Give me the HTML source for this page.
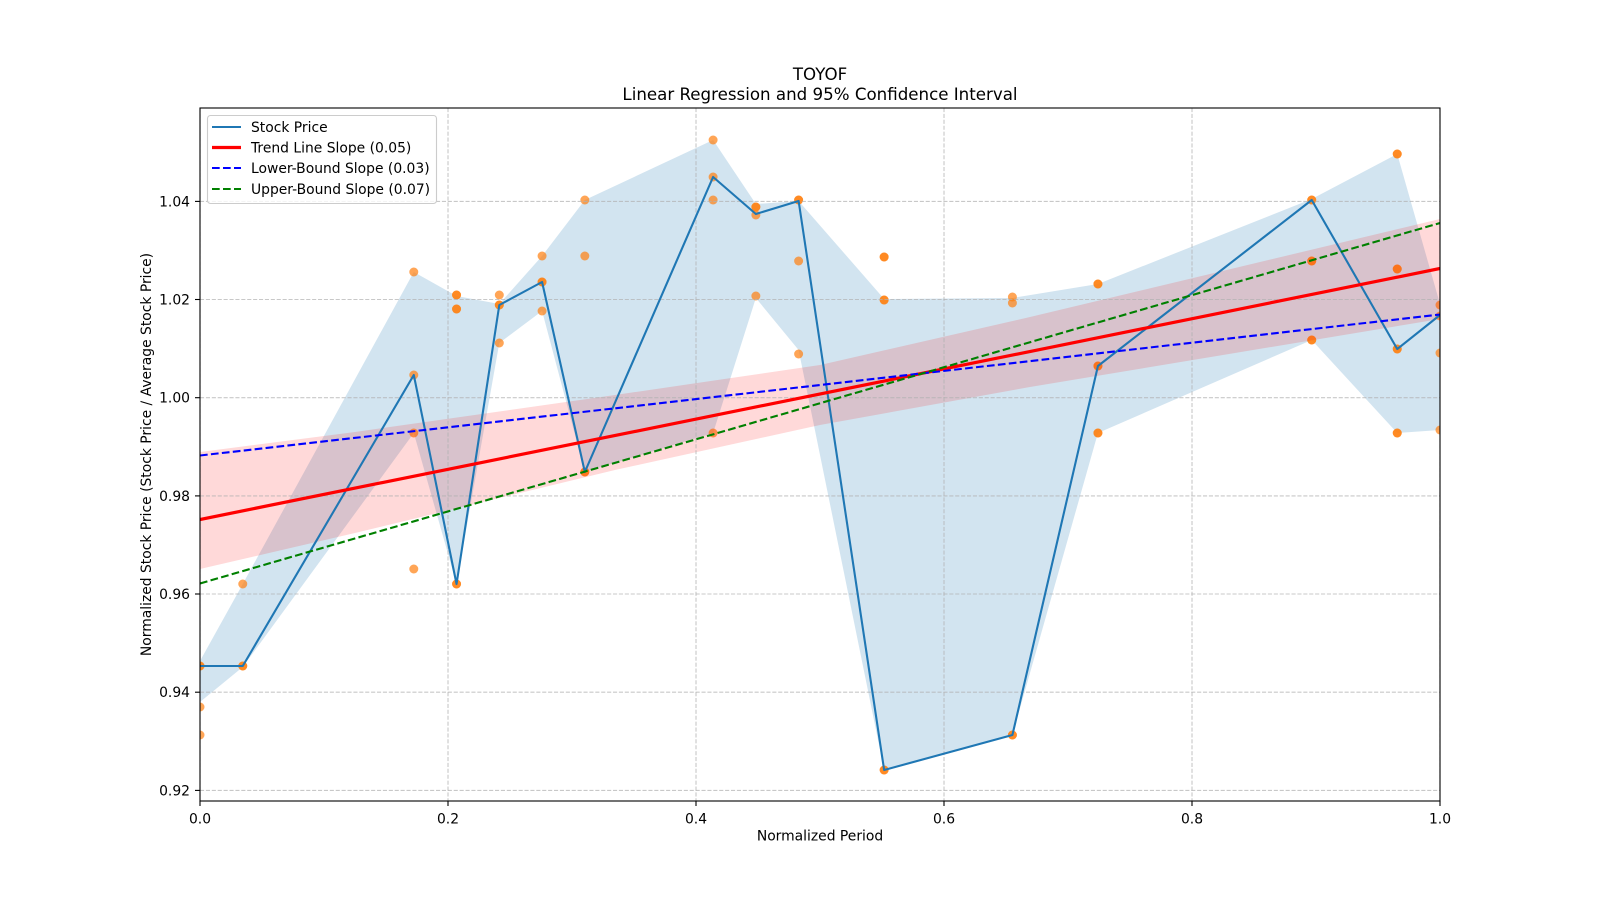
<!DOCTYPE html>
<html><head><meta charset="utf-8"><style>
html,body{margin:0;padding:0;background:#fff;}
svg{display:block;}
text{font-family:"DejaVu Sans","Liberation Sans",sans-serif;fill:#000;}
</style></head><body>
<svg width="1600" height="900" viewBox="0 0 1600 900" xmlns="http://www.w3.org/2000/svg">
<defs><clipPath id="ax"><rect x="200" y="108" width="1240" height="693"/></clipPath></defs>
<rect width="1600" height="900" fill="#fff"/>
<g clip-path="url(#ax)">
<polygon fill="#1f77b4" fill-opacity="0.2" points="200,661 242.76,584 413.79,272 456.55,296 499.31,304 542.07,256 584.83,200 713.10,140 755.86,204 798.62,201 884.14,299 1012.41,298 1097.93,284 1311.72,199 1397.24,154 1440,304 1440,430 1397.24,433 1311.72,340 1097.93,433 1012.41,735 884.14,770 798.62,350 755.86,298 713.10,433 584.83,472 542.07,311 499.31,343 456.55,584 413.79,433 242.76,667 200,702"/>
<g fill="#ff7f0e" fill-opacity="0.7">
<circle cx="200" cy="666" r="4.5"/><circle cx="200" cy="707" r="4.5"/><circle cx="200" cy="735" r="4.5"/><circle cx="200" cy="666" r="4.5"/>
<circle cx="242.76" cy="666" r="4.5"/><circle cx="242.76" cy="666" r="4.5"/><circle cx="242.76" cy="584" r="4.5"/>
<circle cx="413.79" cy="272" r="4.5"/><circle cx="413.79" cy="375" r="4.5"/><circle cx="413.79" cy="433" r="4.5"/><circle cx="413.79" cy="569" r="4.5"/>
<circle cx="456.55" cy="295" r="4.5"/><circle cx="456.55" cy="309" r="4.5"/><circle cx="456.55" cy="295" r="4.5"/><circle cx="456.55" cy="309" r="4.5"/><circle cx="456.55" cy="584" r="4.5"/><circle cx="456.55" cy="584" r="4.5"/>
<circle cx="499.31" cy="295" r="4.5"/><circle cx="499.31" cy="305" r="4.5"/><circle cx="499.31" cy="305" r="4.5"/><circle cx="499.31" cy="343" r="4.5"/>
<circle cx="542.07" cy="256" r="4.5"/><circle cx="542.07" cy="282" r="4.5"/><circle cx="542.07" cy="282" r="4.5"/><circle cx="542.07" cy="311" r="4.5"/>
<circle cx="584.83" cy="200" r="4.5"/><circle cx="584.83" cy="256" r="4.5"/><circle cx="584.83" cy="472" r="4.5"/><circle cx="584.83" cy="472" r="4.5"/>
<circle cx="713.10" cy="140" r="4.5"/><circle cx="713.10" cy="177" r="4.5"/><circle cx="713.10" cy="200" r="4.5"/><circle cx="713.10" cy="433" r="4.5"/>
<circle cx="755.86" cy="207" r="4.5"/><circle cx="755.86" cy="207" r="4.5"/><circle cx="755.86" cy="215" r="4.5"/><circle cx="755.86" cy="296" r="4.5"/>
<circle cx="798.62" cy="200" r="4.5"/><circle cx="798.62" cy="200" r="4.5"/><circle cx="798.62" cy="261" r="4.5"/><circle cx="798.62" cy="354" r="4.5"/>
<circle cx="884.14" cy="257" r="4.5"/><circle cx="884.14" cy="257" r="4.5"/><circle cx="884.14" cy="300" r="4.5"/><circle cx="884.14" cy="300" r="4.5"/><circle cx="884.14" cy="770" r="4.5"/><circle cx="884.14" cy="770" r="4.5"/>
<circle cx="1012.41" cy="297" r="4.5"/><circle cx="1012.41" cy="303" r="4.5"/><circle cx="1012.41" cy="735" r="4.5"/><circle cx="1012.41" cy="735" r="4.5"/>
<circle cx="1097.93" cy="284" r="4.5"/><circle cx="1097.93" cy="284" r="4.5"/><circle cx="1097.93" cy="366" r="4.5"/><circle cx="1097.93" cy="366" r="4.5"/><circle cx="1097.93" cy="433" r="4.5"/><circle cx="1097.93" cy="433" r="4.5"/>
<circle cx="1311.72" cy="200" r="4.5"/><circle cx="1311.72" cy="200" r="4.5"/><circle cx="1311.72" cy="261" r="4.5"/><circle cx="1311.72" cy="261" r="4.5"/><circle cx="1311.72" cy="340" r="4.5"/><circle cx="1311.72" cy="340" r="4.5"/>
<circle cx="1397.24" cy="154" r="4.5"/><circle cx="1397.24" cy="154" r="4.5"/><circle cx="1397.24" cy="269" r="4.5"/><circle cx="1397.24" cy="269" r="4.5"/><circle cx="1397.24" cy="349" r="4.5"/><circle cx="1397.24" cy="349" r="4.5"/><circle cx="1397.24" cy="433" r="4.5"/><circle cx="1397.24" cy="433" r="4.5"/>
<circle cx="1440" cy="305" r="4.5"/><circle cx="1440" cy="316" r="4.5"/><circle cx="1440" cy="353" r="4.5"/><circle cx="1440" cy="430" r="4.5"/>
</g>
<polygon fill="#ff0000" fill-opacity="0.15" points="200,452 355,432 615,395 820,365 1030,317 1235,268 1440,219 1440,319 1235,353 1030,387 820,425 615,470 355,533 200,569"/>
<g stroke="#b0b0b0" stroke-opacity="0.7" stroke-width="1.1" stroke-dasharray="4.1,1.8" fill="none">
<line x1="200" y1="108" x2="200" y2="801"/><line x1="448" y1="108" x2="448" y2="801"/><line x1="696" y1="108" x2="696" y2="801"/><line x1="944" y1="108" x2="944" y2="801"/><line x1="1192" y1="108" x2="1192" y2="801"/><line x1="1440" y1="108" x2="1440" y2="801"/>
<line x1="200" y1="201.4" x2="1440" y2="201.4"/><line x1="200" y1="299.5" x2="1440" y2="299.5"/><line x1="200" y1="397.7" x2="1440" y2="397.7"/><line x1="200" y1="495.9" x2="1440" y2="495.9"/><line x1="200" y1="594.0" x2="1440" y2="594.0"/><line x1="200" y1="692.2" x2="1440" y2="692.2"/><line x1="200" y1="790.4" x2="1440" y2="790.4"/>
</g>
<polyline fill="none" stroke="#1f77b4" stroke-width="2.1" stroke-linejoin="round" points="200,666 242.76,666 413.79,375 456.55,584 499.31,305 542.07,282 584.83,472 713.10,177 755.86,214 798.62,201 884.14,770 1012.41,735 1097.93,366 1311.72,200 1397.24,349 1440,315"/>
<line x1="200" y1="519.5" x2="1440" y2="268.5" stroke="#ff0000" stroke-width="3.2"/>
<line x1="200" y1="455.5" x2="1440" y2="314.5" stroke="#0000ff" stroke-width="2.1" stroke-dasharray="7.7,3.3"/>
<line x1="200" y1="583.5" x2="1440" y2="223" stroke="#008000" stroke-width="2.1" stroke-dasharray="7.7,3.3"/>
</g>
<rect x="200" y="108" width="1240" height="693" fill="none" stroke="#000" stroke-width="1.1"/>
<g stroke="#000" stroke-width="1.1">
<line x1="200" y1="801" x2="200" y2="806"/><line x1="448" y1="801" x2="448" y2="806"/><line x1="696" y1="801" x2="696" y2="806"/><line x1="944" y1="801" x2="944" y2="806"/><line x1="1192" y1="801" x2="1192" y2="806"/><line x1="1440" y1="801" x2="1440" y2="806"/>
<line x1="195" y1="201.4" x2="200" y2="201.4"/><line x1="195" y1="299.5" x2="200" y2="299.5"/><line x1="195" y1="397.7" x2="200" y2="397.7"/><line x1="195" y1="495.9" x2="200" y2="495.9"/><line x1="195" y1="594.0" x2="200" y2="594.0"/><line x1="195" y1="692.2" x2="200" y2="692.2"/><line x1="195" y1="790.4" x2="200" y2="790.4"/>
</g>
<g font-size="13.89" text-anchor="middle">
<text x="200" y="823.5">0.0</text><text x="448" y="823.5">0.2</text><text x="696" y="823.5">0.4</text><text x="944" y="823.5">0.6</text><text x="1192" y="823.5">0.8</text><text x="1440" y="823.5">1.0</text>
</g>
<g font-size="13.89" text-anchor="end">
<text x="190" y="206.4">1.04</text><text x="190" y="304.5">1.02</text><text x="190" y="402.7">1.00</text><text x="190" y="500.9">0.98</text><text x="190" y="599.0">0.96</text><text x="190" y="697.2">0.94</text><text x="190" y="795.4">0.92</text>
</g>
<text x="820" y="840.5" font-size="13.89" text-anchor="middle">Normalized Period</text>
<text transform="translate(151,454.5) rotate(-90)" x="0" y="0" font-size="13.89" text-anchor="middle">Normalized Stock Price (Stock Price / Average Stock Price)</text>
<text x="820" y="80" font-size="16.67" text-anchor="middle">TOYOF</text>
<text x="820" y="100" font-size="16.67" text-anchor="middle">Linear Regression and 95% Confidence Interval</text>
<rect x="207.5" y="115.5" width="229" height="88" rx="3" ry="3" fill="#fff" fill-opacity="0.8" stroke="#cccccc" stroke-width="1.1"/>
<line x1="212" y1="127" x2="241" y2="127" stroke="#1f77b4" stroke-width="2.1"/>
<line x1="212" y1="147.5" x2="241" y2="147.5" stroke="#ff0000" stroke-width="3.2"/>
<line x1="212" y1="168" x2="241" y2="168" stroke="#0000ff" stroke-width="2.1" stroke-dasharray="7.7,3.3"/>
<line x1="212" y1="189" x2="241" y2="189" stroke="#008000" stroke-width="2.1" stroke-dasharray="7.7,3.3"/>
<g font-size="13.89">
<text x="251" y="132">Stock Price</text>
<text x="251" y="152.5">Trend Line Slope (0.05)</text>
<text x="251" y="173">Lower-Bound Slope (0.03)</text>
<text x="251" y="194">Upper-Bound Slope (0.07)</text>
</g>
</svg>
</body></html>
